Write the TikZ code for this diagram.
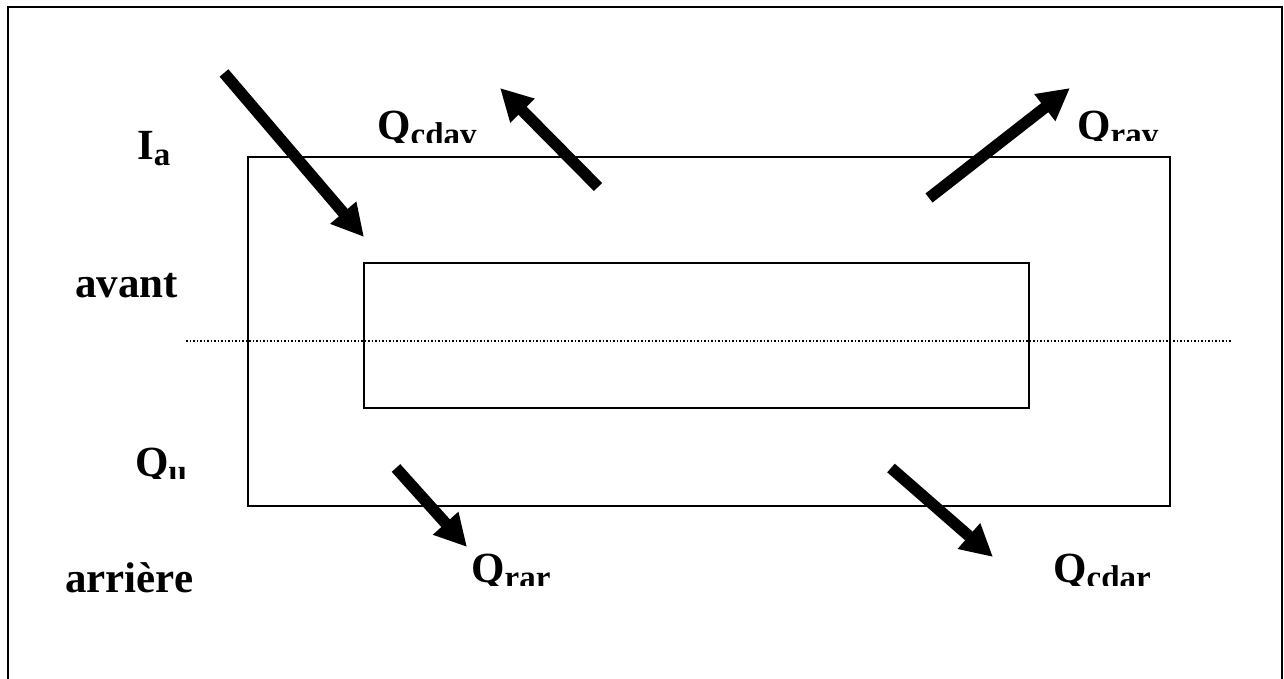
\documentclass[tikz,border=0pt]{standalone}
\usepackage{fontspec}
\setmainfont{Liberation Serif}
\usetikzlibrary{arrows.meta}

\tikzset{
  flux/.style={line width=11.5pt, -{Triangle[length=32pt, width=32pt]}},
  lbl/.style={font=\fontsize{43}{48}\selectfont\bfseries, inner sep=0pt, anchor=base west}
}
\newcommand{\sub}[1]{\raisebox{-6pt}{\fontsize{33}{36}\selectfont #1}}

\begin{document}
\begin{tikzpicture}[x=1pt, y=-1pt]
        \useasboundingbox (0, 0) rectangle (1284, 679);
        \clip (0, 0) rectangle (1284, 679);
        \draw[line width=2.5pt] (8, 700) -- (8, 7) -- (1282, 7) -- (1282, 700);

        % walls
        \draw[line width=1.8pt] (248, 157) rectangle (1170, 506);
        \draw[line width=1.8pt] (364, 263) rectangle (1029, 408);
        \draw[line width=1.5pt, dotted] (186, 341) -- (1232, 341);

        % side labels
        \node[lbl] (ia) at (137, 160) {I\sub{a}};
        \node[lbl] (av) at (75, 297) {avant};
        \node[lbl] (ar) at (65, 592) {arrière};
        \begin{scope}
            \clip (100, 430) rectangle (230, 478);
            \node[lbl] (qu) at (135, 476) {Q\sub{u}};
        \end{scope}

        % flux labels, cut at the bottom
        \begin{scope}
            \clip (360, 90) rectangle (500, 143);
            \node[lbl] (qcdav) at (377, 140) {Q\sub{cdav}};
        \end{scope}
        \begin{scope}
            \clip (1060, 90) rectangle (1200, 141);
            \node[lbl] (qrav) at (1077, 140) {Q\sub{rav}};
        \end{scope}
        \begin{scope}
            \clip (450, 530) rectangle (590, 585);
            \node[lbl] (qrar) at (471, 582) {Q\sub{rar}};
        \end{scope}
        \begin{scope}
            \clip (1040, 530) rectangle (1190, 585);
            \node[lbl] (qcdar) at (1053, 582) {Q\sub{cdar}};
        \end{scope}

        % heat flows
        \coordinate (ia1) at (224, 73);   \coordinate (ia2) at (364, 237);
        \coordinate (cd1) at (598, 187);  \coordinate (cd2) at (500, 88);
        \coordinate (rv1) at (929, 198);  \coordinate (rv2) at (1070, 88);
        \coordinate (rr1) at (396, 468);  \coordinate (rr2) at (467, 547);
        \coordinate (cr1) at (891, 468);  \coordinate (cr2) at (993, 557);
        \draw[flux] (ia1) -- (ia2);
        \draw[flux] (cd1) -- (cd2);
        \draw[flux] (rv1) -- (rv2);
        \draw[flux] (rr1) -- (rr2);
        \draw[flux] (cr1) -- (cr2);
    \end{tikzpicture}
\end{document}
